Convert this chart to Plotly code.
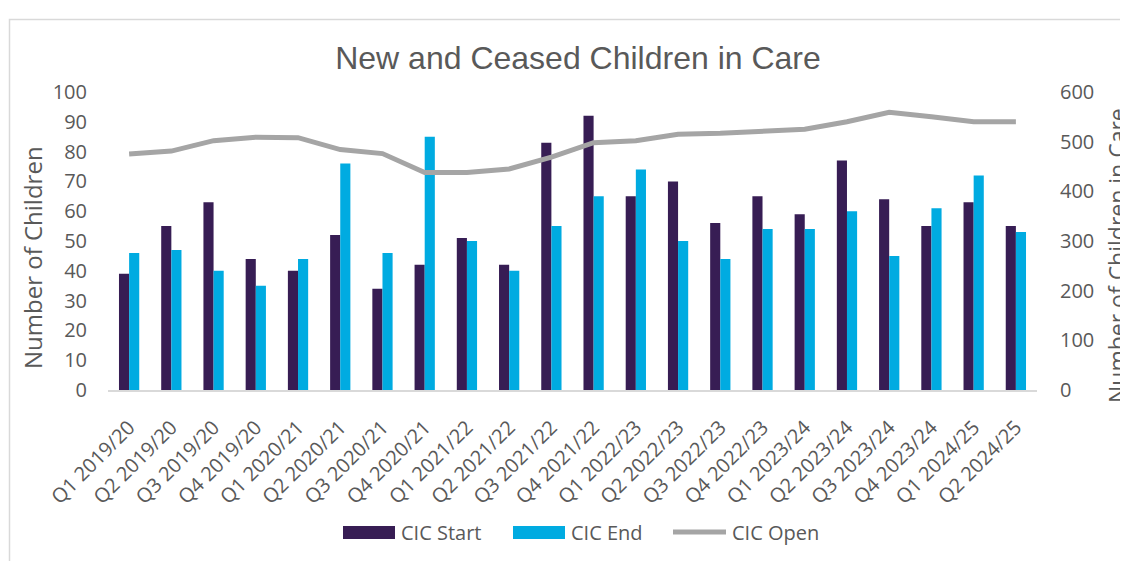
import plotly.graph_objects as go

quarters = ["Q1 2019/20", "Q2 2019/20", "Q3 2019/20", "Q4 2019/20",
            "Q1 2020/21", "Q2 2020/21", "Q3 2020/21", "Q4 2020/21",
            "Q1 2021/22", "Q2 2021/22", "Q3 2021/22", "Q4 2021/22",
            "Q1 2022/23", "Q2 2022/23", "Q3 2022/23", "Q4 2022/23",
            "Q1 2023/24", "Q2 2023/24", "Q3 2023/24", "Q4 2023/24",
            "Q1 2024/25", "Q2 2024/25"]
cic_start = [39, 55, 63, 44, 40, 52, 34, 42, 51, 42, 83, 92, 65, 70, 56, 65, 59, 77, 64, 55, 63, 55]
cic_end = [46, 47, 40, 35, 44, 76, 46, 85, 50, 40, 55, 65, 74, 50, 44, 54, 54, 60, 45, 61, 72, 53]
cic_open = [475, 481, 502, 509, 508, 484, 476, 438, 438, 445, 469, 498, 502, 515, 517, 521, 525, 540, 559, 550, 540, 540]

C_START = "#371D54"
C_END = "#00ABE1"
C_OPEN = "#A5A5A5"
TXT = "#595959"
FONT = "Open Sans"

W, H = 1128, 561
OFF = 8  # page body margin offset (screen px -> figure px)
L, R, T, B = 108 - OFF, 1037 - OFF, 92 - OFF, 390 - OFF  # plot area in figure pixels


def px(x):
    return (x - OFF - L) / (R - L)


def py(y):
    return (B - (y - OFF)) / (B - T)


fig = go.Figure()
fig.add_trace(go.Bar(x=quarters, y=cic_start, name="CIC Start", marker_color=C_START,
                     marker_line_width=0))
fig.add_trace(go.Bar(x=quarters, y=cic_end, name="CIC End", marker_color=C_END,
                     marker_line_width=0))
fig.add_trace(go.Scatter(x=quarters, y=cic_open, name="CIC Open", yaxis="y2", mode="lines",
                         line=dict(color=C_OPEN, width=5)))

shapes = [
    # outer chart border
    dict(type="rect", xref="paper", yref="paper", x0=px(9.5), x1=px(1160), y0=py(19.5), y1=py(620),
         line=dict(color="#D9D9D9", width=1.5), fillcolor="rgba(0,0,0,0)", layer="below"),
    # legend swatches
    dict(type="rect", xref="paper", yref="paper", x0=px(343), x1=px(395), y0=py(526), y1=py(539),
         fillcolor=C_START, line=dict(width=0)),
    dict(type="rect", xref="paper", yref="paper", x0=px(513), x1=px(565), y0=py(526), y1=py(539),
         fillcolor=C_END, line=dict(width=0)),
    dict(type="line", xref="paper", yref="paper", x0=px(673), x1=px(726), y0=py(532), y1=py(532),
         line=dict(color=C_OPEN, width=5)),
]

annotations = [
    dict(text="CIC Start", xref="paper", yref="paper", x=px(399), y=py(532), xanchor="left",
         yanchor="middle", showarrow=False, font=dict(family=FONT, size=20, color=TXT)),
    dict(text="CIC End", xref="paper", yref="paper", x=px(569), y=py(532), xanchor="left",
         yanchor="middle", showarrow=False, font=dict(family=FONT, size=20, color=TXT)),
    dict(text="CIC Open", xref="paper", yref="paper", x=px(730), y=py(532), xanchor="left",
         yanchor="middle", showarrow=False, font=dict(family=FONT, size=20, color=TXT)),
    dict(text="Number of Children", xref="paper", yref="paper", x=px(32), y=py(258),
         xanchor="center", yanchor="middle", textangle=-90, showarrow=False,
         font=dict(family=FONT, size=24, color=TXT)),
    dict(text="Number of Children in Care", xref="paper", yref="paper", x=px(1117), y=py(256),
         xanchor="center", yanchor="middle", textangle=-90, showarrow=False,
         font=dict(family=FONT, size=23, color=TXT)),
]

fig.update_layout(
    width=W, height=H,
    margin=dict(l=L, r=W - R, t=T, b=H - B, autoexpand=False),
    paper_bgcolor="white", plot_bgcolor="white",
    showlegend=False,
    barmode="group", bargap=0.52, bargroupgap=0,
    title=dict(text="New and Ceased Children in Care", xref="container", yref="container",
               x=(578 - OFF) / W, y=1 - (58 - OFF) / H, xanchor="center", yanchor="middle",
               font=dict(family="Liberation Sans, Arial", size=32, color=TXT)),
    xaxis=dict(showline=True, linecolor="#D9D9D9", linewidth=1.5, showgrid=False,
               ticks="", tickangle=-45, tickfont=dict(family=FONT, size=20, color=TXT),
               ticklabelstandoff=16),
    yaxis=dict(range=[0, 100], dtick=10, showgrid=False, showline=False, zeroline=False,
               ticks="", tickfont=dict(family=FONT, size=20, color=TXT), ticklabelstandoff=20),
    yaxis2=dict(range=[0, 600], dtick=100, overlaying="y", side="right", showgrid=False,
                showline=False, zeroline=False, ticks="",
                tickfont=dict(family=FONT, size=20, color=TXT), ticklabelstandoff=22),
    shapes=shapes,
    annotations=annotations,
)

fig.write_html("out.html")
